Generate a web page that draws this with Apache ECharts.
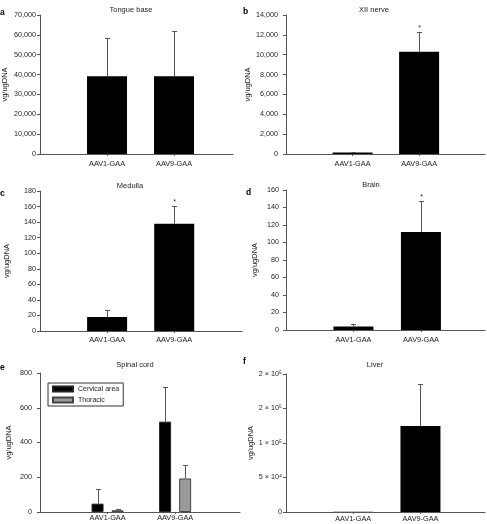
<!DOCTYPE html>
<html><head><meta charset="utf-8">
<script src="https://cdn.jsdelivr.net/npm/echarts@6/dist/echarts.min.js"></script>
<style>html,body{margin:0;padding:0;background:#fff}#c{width:487px;height:524px}</style>
</head><body><div id="c"></div>
<script>
// ---------- data ----------
const categories = ['AAV1-GAA', 'AAV9-GAA'];
const panelLetters = ['a', 'b', 'c', 'd', 'e', 'f'];
const panelTitles = ['Tongue base', 'XII nerve', 'Medulla', 'Brain', 'Spinal cord', 'Liver'];
const yAxisName = 'vg/ugDNA';
const seriesNames = ['Cervical area', 'Thoracic'];

const tongueMean = [39100, 39100];
const tongueUpper = [58600, 62100];
const tongueStar = [0, 0];
const nerveMean = [150, 10300];
const nerveUpper = [250, 12300];
const nerveStar = [0, 1];
const medullaMean = [18, 138];
const medullaUpper = [27, 161];
const medullaStar = [0, 1];
const brainMean = [4, 112];
const brainUpper = [7, 147];
const brainStar = [0, 1];
const cervicalMean = [48, 520];
const cervicalUpper = [130, 720];
const thoracicMean = [10, 193];
const thoracicUpper = [17, 268];
const liverMean = [300, 124500];
const liverUpper = [300, 185500];
const liverStar = [0, 0];

const yMax = [70000, 14000, 180, 160, 800, 200000];
const yInterval = [10000, 2000, 20, 20, 200, 50000];
const liverTickLabels = ['0', '5 × 10⁴', '1 × 10⁵', '2 × 10⁵', '2 × 10⁵'];

// ---------- layout / style ----------
const FONT = 'Arial, "Liberation Sans", sans-serif';
const AX = '#555';
const TXT = '#222';
const layout = [
  {grid: {left: 40, top: 15, width: 193, height: 139}, xMax: 2.88, title: [131, 10], letter: [0, 8.5], nameGap: 31, yMargin: 4, xMargin: 6},
  {grid: {left: 286, top: 15, width: 199, height: 139}, xMax: 2.99, title: [374, 10], letter: [243, 7.5], nameGap: 26, yMargin: 8, xMargin: 6},
  {grid: {left: 40, top: 191, width: 202, height: 140}, xMax: 3.01, title: [130, 186], letter: [0, 189], nameGap: 29.5, yMargin: 4, xMargin: 5},
  {grid: {left: 286, top: 190, width: 199, height: 140}, xMax: 2.95, title: [371, 185], letter: [246, 188], nameGap: 27, yMargin: 7, xMargin: 6},
  {grid: {left: 40, top: 373, width: 200, height: 139}, xMax: 2.96, title: [135, 365], letter: [0, 363], nameGap: 27.5, yMargin: 8, xMargin: 2.5},
  {grid: {left: 286, top: 374, width: 199, height: 138}, xMax: 2.96, title: [375, 365], letter: [243, 357], nameGap: 28, yMargin: 4, xMargin: 3}
];
const catPos = categories.map((_, j) => j + 1);

function yFormatter(i) {
  if (i === 5) return v => liverTickLabels[Math.round(v / yInterval[5])];
  return v => v.toLocaleString('en-US');
}

const grids = [], xAxes = [], yAxes = [], graphics = [];
layout.forEach((L, i) => {
  grids.push(Object.assign({containLabel: false, outerBoundsMode: 'none'}, L.grid));
  xAxes.push({
    type: 'value', gridIndex: i, min: 0, max: L.xMax, interval: 1,
    axisLine: {show: true, onZero: false, lineStyle: {color: AX, width: 1}},
    axisTick: {show: true, length: 2, customValues: catPos, lineStyle: {color: AX}},
    axisLabel: {customValues: catPos, formatter: v => categories[Math.round(v) - 1] || '',
      fontSize: 7.3, color: TXT, fontFamily: FONT, margin: L.xMargin},
    splitLine: {show: false}
  });
  yAxes.push({
    type: 'value', gridIndex: i, min: 0, max: yMax[i], interval: yInterval[i],
    axisLine: {show: true, onZero: false, lineStyle: {color: AX, width: 1}},
    axisTick: {show: true, length: 3, lineStyle: {color: AX}},
    axisLabel: {formatter: yFormatter(i), fontSize: 7.2, color: TXT, fontFamily: FONT, margin: L.yMargin},
    splitLine: {show: false},
    name: yAxisName, nameLocation: 'middle', nameGap: L.nameGap,
    nameTextStyle: {fontSize: 7.5, color: TXT, fontFamily: FONT}
  });
  graphics.push({type: 'text', x: L.title[0], y: L.title[1], silent: true,
    style: {text: panelTitles[i], align: 'center', verticalAlign: 'middle', fill: TXT, font: '7.5px ' + FONT}});
  graphics.push({type: 'text', x: L.letter[0], y: L.letter[1], silent: true,
    style: {text: panelLetters[i], align: 'left', verticalAlign: 'alphabetic', fill: '#000', font: 'bold 8.5px ' + FONT}});
});

function errRender(offset) {
  return function (params, api) {
    const x = api.value(0), m = api.value(1), u = api.value(2), s = api.value(3);
    if (!(u > m)) return {type: 'group', children: []};
    const p0 = api.coord([x, m]), p1 = api.coord([x, u]);
    const cx = Math.round(p0[0] + offset) + 0.5;
    const ty = Math.round(p1[1]) + 0.5;
    const children = [
      {type: 'line', shape: {x1: cx, y1: p0[1], x2: cx, y2: ty}, style: {stroke: '#555', lineWidth: 1}},
      {type: 'line', shape: {x1: cx - 2.5, y1: ty, x2: cx + 2.5, y2: ty}, style: {stroke: '#555', lineWidth: 1}}
    ];
    if (s) children.push({type: 'text', x: cx, y: ty - 0.5,
      style: {text: '*', align: 'center', verticalAlign: 'bottom', fill: TXT, font: '7px ' + FONT}});
    return {type: 'group', children};
  };
}
function errData(mean, upper, star) {
  return categories.map((c, j) => [catPos[j], mean[j], upper[j], star ? star[j] : 0]);
}
function barData(mean) { return categories.map((c, j) => [catPos[j], mean[j]]); }

const series = [];
const singles = [
  [0, tongueMean, tongueUpper, tongueStar],
  [1, nerveMean, nerveUpper, nerveStar],
  [2, medullaMean, medullaUpper, medullaStar],
  [3, brainMean, brainUpper, brainStar],
  [5, liverMean, liverUpper, liverStar]
];
singles.forEach(([i, m, u, s]) => {
  series.push({type: 'bar', xAxisIndex: i, yAxisIndex: i, barWidth: 40, data: barData(m),
    itemStyle: {color: '#000', borderColor: '#000', borderWidth: 0}, silent: true});
  series.push({type: 'custom', xAxisIndex: i, yAxisIndex: i, data: errData(m, u, s),
    renderItem: errRender(0), encode: {x: 0, y: [1, 2]}, z: 5, silent: true});
});
// spinal cord panel (two series)
series.push({type: 'bar', name: seriesNames[0], xAxisIndex: 4, yAxisIndex: 4, barWidth: 12, barGap: '67%',
  data: barData(cervicalMean), itemStyle: {color: '#000', borderColor: '#222', borderWidth: 1}, silent: true});
series.push({type: 'bar', name: seriesNames[1], xAxisIndex: 4, yAxisIndex: 4, barWidth: 12, barGap: '67%',
  data: barData(thoracicMean), itemStyle: {color: '#9a9a9a', borderColor: '#444', borderWidth: 1}, silent: true});
series.push({type: 'custom', xAxisIndex: 4, yAxisIndex: 4, data: errData(cervicalMean, cervicalUpper),
  renderItem: errRender(-10), encode: {x: 0, y: [1, 2]}, z: 5, silent: true});
series.push({type: 'custom', xAxisIndex: 4, yAxisIndex: 4, data: errData(thoracicMean, thoracicUpper),
  renderItem: errRender(10), encode: {x: 0, y: [1, 2]}, z: 5, silent: true});

const chart = echarts.init(document.getElementById('c'), null, {renderer: 'canvas'});
chart.setOption({
  animation: false,
  backgroundColor: '#fff',
  textStyle: {fontFamily: FONT},
  grid: grids, xAxis: xAxes, yAxis: yAxes, series: series,
  legend: {
    data: seriesNames, orient: 'vertical', left: 48, top: 383,
    padding: [1.5, 4], itemGap: 2, itemWidth: 20, itemHeight: 5, icon: 'rect',
    borderColor: '#333', borderWidth: 1, borderRadius: 0, selectedMode: false,
    textStyle: {fontSize: 7, color: TXT, fontFamily: FONT, lineHeight: 9}
  },
  graphic: graphics
});
</script></body></html>
